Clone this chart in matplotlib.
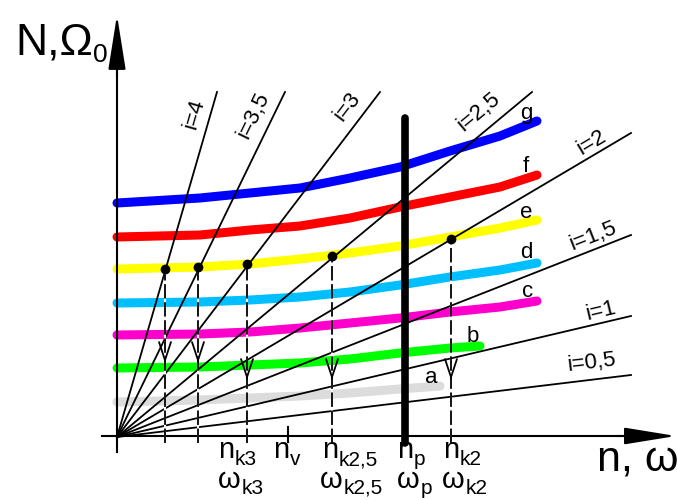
import numpy as np
import matplotlib
matplotlib.use("Agg")
import matplotlib.pyplot as plt
from matplotlib.patches import FancyArrowPatch

# ---------------- data (n along x, N/Omega along y; origin at 0,0) ----------------
curve_n = [0, 83, 133, 183, 233, 283, 333, 383, 420]
curve_g = [234, 239, 244, 249, 259, 270, 286, 301, 316]
curve_f = [200, 202, 207, 211, 219, 230, 240, 250, 262]
curve_e = [168, 170, 173, 178, 184, 191, 200, 209, 217]
curve_d = [134, 135, 137, 140, 145, 152, 160, 167, 174]
curve_c = [102, 103, 105, 109, 114, 119, 125, 130, 136]
curve_b_n = [0, 83, 133, 183, 233, 283, 333, 363]
curve_b = [69, 70, 72, 74, 78, 84, 89, 91]
curve_a_n = [0, 83, 133, 183, 233, 283, 323]
curve_a = [35, 37, 39, 41, 44, 48, 51]

curve_names = ["g", "f", "e", "d", "c", "b", "a"]
curve_colors = ["#0000ff", "#ff0000", "#ffff00", "#00bfff", "#ff00cc", "#00ff00", "#dcdcdc"]

# rays i = const (end points of each ray)
ray_labels = ["i=4", "i=3,5", "i=3", "i=2,5", "i=2", "i=1,5", "i=1", "i=0,5"]
ray_end_n = [100, 168, 263, 415, 514, 514, 514, 514]
ray_end_y = [345, 345, 345, 345, 304, 202, 121, 62]

# operating points on curve e and projection arrows
op_n = [48, 81, 130, 215, 334]
op_y = [168, 170, 173, 181, 198]
arrow_tip_y = [74, 74, 57, 57, 57]

n_v = 171
n_p = 288
n_p_top = 319

# tick labels: (main, subscript)
tick_n_labels = [("n", "k3"), ("n", "v"), ("n", "k2,5"), ("n", "p"), ("n", "k2")]
tick_n_pos = [101, 156, 205, 280, 326]
tick_w_labels = [("\u03c9", "k3"), ("\u03c9", "k2,5"), ("\u03c9", "p"), ("\u03c9", "k2")]
tick_w_pos = [101, 203, 280, 325]

# ---------------- figure ----------------
plt.rcParams["font.family"] = ["Liberation Sans", "DejaVu Sans"]
fig = plt.figure(figsize=(6.77, 5.0), dpi=100)
ax = fig.add_axes([0, 0, 1, 1])
ax.set_xlim(-117, 560)
ax.set_ylim(-63, 437)
ax.axis("off")

# colored curves
curves_x = [curve_n, curve_n, curve_n, curve_n, curve_n, curve_b_n, curve_a_n]
curves_y = [curve_g, curve_f, curve_e, curve_d, curve_c, curve_b, curve_a]
for xs, ys, col in zip(curves_x, curves_y, curve_colors):
    ax.plot(xs, ys, color=col, lw=6.5, solid_capstyle="round", solid_joinstyle="round", zorder=2)

# rays
for lab, ex, ey in zip(ray_labels, ray_end_n, ray_end_y):
    ax.plot([0, ex], [0, ey], color="black", lw=1.3, zorder=3)

ray_label_pos = [(77, 323), (137, 322), (230, 330), (362, 325),
                 (475, 294), (476, 201), (484, 126), (475, 74)]
for lab, ex, ey, (tx, ty) in zip(ray_labels, ray_end_n, ray_end_y, ray_label_pos):
    ang = np.degrees(np.arctan2(ey, ex))
    ax.text(tx, ty, lab, fontsize=16, rotation=ang, rotation_mode="anchor",
            ha="center", va="center", zorder=7)

# curve letters
letter_pos = [(403, 318), (406, 265), (403, 219), (403, 179), (405, 140), (350, 95), (308, 54)]
for name, (lx, ly) in zip(curve_names, letter_pos):
    ax.text(lx, ly, name, fontsize=16, ha="left", va="baseline", zorder=7)

# thick vertical line at n_p
ax.plot([n_p, n_p], [-6, n_p_top], color="black", lw=5.5, solid_capstyle="round", zorder=4)

# dashed projections
for x, y in zip(op_n, op_y):
    ax.plot([x, x], [-6, y], color="white", lw=1.5, zorder=5)
    ax.plot([x, x], [-6, y], color="black", lw=1.3, dashes=(8, 2.0), zorder=5)

# points
ax.plot(op_n, op_y, "o", color="black", ms=6, zorder=6)

# open arrows on dashed lines
for x, tip in zip(op_n, arrow_tip_y):
    ar = FancyArrowPatch((x, tip + 2), (x, tip), arrowstyle="->,head_length=13,head_width=4.3",
                         mutation_scale=1, lw=1.3, color="black", shrinkA=0, shrinkB=0, zorder=6)
    ax.add_patch(ar)

# axes with arrows
ax.plot([0, 0], [-15, 380], color="black", lw=1.5, zorder=4)
ax.add_patch(FancyArrowPatch((0, 360), (0, 422), arrowstyle="-|>,head_length=34,head_width=5.4",
                             mutation_scale=1, lw=1.5, color="black", shrinkA=0, shrinkB=0, zorder=4))
ax.plot([-15, 520], [1, 1], color="black", lw=1.5, zorder=4)
ax.add_patch(FancyArrowPatch((500, 1), (559, 1), arrowstyle="-|>,head_length=32,head_width=5.2",
                             mutation_scale=1, lw=1.5, color="black", shrinkA=0, shrinkB=0, zorder=4))

# small ticks
ax.plot([n_v, n_v], [-5, 10], color="black", lw=1.5, zorder=4)

# labels with subscripts
renderer = fig.canvas.get_renderer()
inv = ax.transData.inverted()


def sublabel(x, yb, main, sub, size, subsize, drop, gap=0.5):
    t = ax.text(x, yb, main, fontsize=size, ha="left", va="baseline", zorder=7)
    bb = t.get_window_extent(renderer)
    x1 = inv.transform((bb.x1, bb.y0))[0]
    ax.text(x1 + gap, yb - drop, sub, fontsize=subsize, ha="left", va="baseline", zorder=7)


for (m, s), x in zip(tick_n_labels, tick_n_pos):
    sublabel(x, -21, m, s, 21, 15, 7)
for (m, s), x in zip(tick_w_labels, tick_w_pos):
    sublabel(x, -51, m, s, 21, 15, 6)

sublabel(-102, 382, "N,\u03a9", "0", 32, 19, 7, gap=0)
ax.text(480, -33, "n, \u03c9", fontsize=31, ha="left", va="baseline", zorder=7)

fig.savefig("out.png", dpi=100)
